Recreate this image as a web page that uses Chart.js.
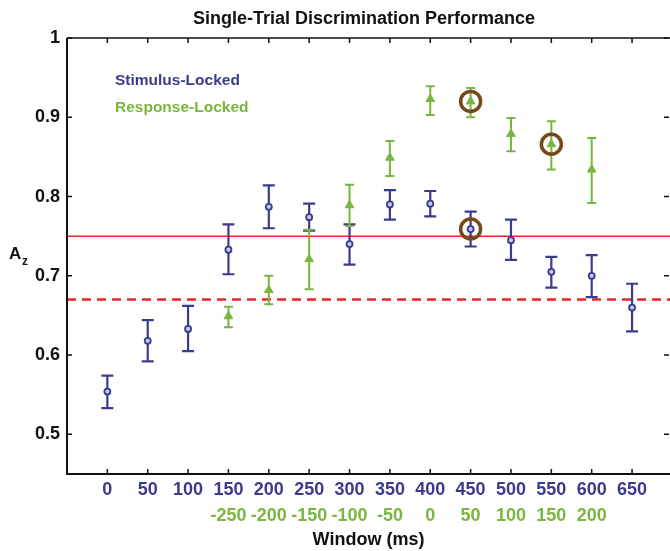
<!DOCTYPE html>
<html>
<head>
<meta charset="utf-8">
<script src="https://cdn.jsdelivr.net/npm/chart.js@4/dist/chart.umd.min.js"></script>
<style>
  html, body { margin: 0; padding: 0; background: #fff; }
  #wrap { width: 670px; height: 551px; }
</style>
</head>
<body>
<div id="wrap"><canvas id="azChart" width="670" height="551"></canvas></div>
<script>
// Stimulus-locked windows (ms) and Az values
const stimWindows = [0, 50, 100, 150, 200, 250, 300, 350, 400, 450, 500, 550, 600, 650];
const stimAz   = [0.554, 0.618, 0.633, 0.733, 0.787, 0.774, 0.740, 0.790, 0.791, 0.759, 0.745, 0.705, 0.700, 0.660];
const stimLow  = [0.533, 0.592, 0.605, 0.702, 0.760, 0.757, 0.714, 0.771, 0.775, 0.737, 0.720, 0.685, 0.673, 0.630];
const stimHigh = [0.574, 0.644, 0.662, 0.765, 0.814, 0.791, 0.765, 0.808, 0.807, 0.781, 0.771, 0.724, 0.726, 0.690];

// Response-locked windows (ms, relative to response) and Az values
const respWindows = [-250, -200, -150, -100, -50, 0, 50, 100, 150, 200];
const respAz   = [0.649, 0.682, 0.721, 0.789, 0.849, 0.923, 0.920, 0.879, 0.866, 0.834];
const respLow  = [0.635, 0.664, 0.683, 0.763, 0.826, 0.903, 0.900, 0.857, 0.834, 0.792];
const respHigh = [0.661, 0.700, 0.758, 0.815, 0.870, 0.939, 0.937, 0.899, 0.895, 0.874];
const respOffset = 400; // response window 0 sits under stimulus window 400

// circled (best) windows
const circledStim = [450];
const circledResp = [50, 150];

// reference lines
const solidLine = 0.75;
const dashedLine = 0.67;

const yTicks = [0.5, 0.6, 0.7, 0.8, 0.9, 1];

const BLUE = '#3b3b8e';
const GREEN = '#7ab63e';
const RED = '#e8262b';
const BROWN = '#764a18';
const FONT = "'Liberation Sans', Arial, sans-serif";

const stimPoints = stimWindows.map((w, i) => ({ x: w, y: stimAz[i] }));
const respPoints = respWindows.map((w, i) => ({ x: w + respOffset, y: respAz[i] }));
const circlePoints = [
  ...circledStim.map(w => ({ x: w, y: stimAz[stimWindows.indexOf(w)] })),
  ...circledResp.map(w => ({ x: w + respOffset, y: respAz[respWindows.indexOf(w)] }))
];

const extras = {
  id: 'extras',
  beforeDatasetsDraw(chart) {
    const { ctx, chartArea: a, scales: { x, y } } = chart;
    ctx.save();
    // reference lines
    ctx.strokeStyle = RED;
    ctx.lineWidth = 1.6;
    let py = y.getPixelForValue(solidLine);
    ctx.beginPath(); ctx.moveTo(a.left, py); ctx.lineTo(a.right, py); ctx.stroke();
    ctx.lineWidth = 2.5;
    ctx.setLineDash([9, 6]);
    py = y.getPixelForValue(dashedLine);
    ctx.beginPath(); ctx.moveTo(a.left, py); ctx.lineTo(a.right, py); ctx.stroke();
    ctx.setLineDash([]);

    // error bars
    const bars = (xs, lo, hi, color, cap, lw) => {
      ctx.strokeStyle = color;
      ctx.lineWidth = lw;
      xs.forEach((xv, i) => {
        const px = x.getPixelForValue(xv);
        const y1 = y.getPixelForValue(lo[i]);
        const y2 = y.getPixelForValue(hi[i]);
        ctx.beginPath();
        ctx.moveTo(px, y1); ctx.lineTo(px, y2);
        ctx.moveTo(px - cap, y1); ctx.lineTo(px + cap, y1);
        ctx.moveTo(px - cap, y2); ctx.lineTo(px + cap, y2);
        ctx.stroke();
      });
    };
    bars(stimWindows, stimLow, stimHigh, BLUE, 6, 2.2);
    bars(respWindows.map(w => w + respOffset), respLow, respHigh, GREEN, 4.5, 2);

    // frame
    ctx.strokeStyle = '#111';
    ctx.lineWidth = 2;
    ctx.beginPath();
    ctx.moveTo(a.left, a.top); ctx.lineTo(a.left, a.bottom); ctx.lineTo(a.right, a.bottom);
    ctx.stroke();
    ctx.lineWidth = 1.5;
    ctx.beginPath(); ctx.moveTo(a.left, a.top); ctx.lineTo(a.right, a.top); ctx.stroke();

    // inward ticks
    ctx.lineWidth = 1.5;
    ctx.beginPath();
    stimWindows.forEach(w => {
      const px = x.getPixelForValue(w);
      ctx.moveTo(px, a.bottom); ctx.lineTo(px, a.bottom - 5);
      ctx.moveTo(px, a.top); ctx.lineTo(px, a.top + 5);
    });
    yTicks.forEach(v => {
      const p = y.getPixelForValue(v);
      ctx.moveTo(a.left, p); ctx.lineTo(a.left + 5, p);
      ctx.moveTo(a.right - 1, p); ctx.lineTo(a.right - 6, p);
    });
    ctx.stroke();

    // title
    ctx.fillStyle = '#111';
    ctx.font = 'bold 18px ' + FONT;
    ctx.textAlign = 'center';
    ctx.textBaseline = 'alphabetic';
    ctx.fillText('Single-Trial Discrimination Performance', 364, 24);

    // y-axis label A_z
    ctx.font = 'bold 17px ' + FONT;
    ctx.textAlign = 'left';
    ctx.fillText('A', 9, 259);
    ctx.font = 'bold 12px ' + FONT;
    ctx.fillText('z', 22, 265);

    // legend text
    ctx.font = 'bold 15.5px ' + FONT;
    ctx.fillStyle = BLUE;
    ctx.fillText('Stimulus-Locked', 115, 85);
    ctx.fillStyle = GREEN;
    ctx.fillText('Response-Locked', 115, 112);
    ctx.restore();
  }
};

// keep the plot running to the right edge of the canvas
const noSidePadding = s => { s.paddingLeft = 0; s.paddingRight = 0; };

new Chart(document.getElementById('azChart'), {
  type: 'scatter',
  data: {
    datasets: [
      {
        label: 'Stimulus-Locked',
        data: stimPoints,
        pointStyle: 'circle',
        pointRadius: 3,
        borderColor: BLUE,
        backgroundColor: '#c9c9ea',
        borderWidth: 1.8
      },
      {
        label: 'Response-Locked',
        data: respPoints,
        pointStyle: 'triangle',
        pointRadius: 5,
        borderColor: GREEN,
        backgroundColor: GREEN,
        borderWidth: 1
      },
      {
        label: 'Best',
        data: circlePoints,
        pointStyle: 'circle',
        pointRadius: 10,
        borderColor: BROWN,
        backgroundColor: 'rgba(0,0,0,0)',
        borderWidth: 3.5
      }
    ]
  },
  options: {
    responsive: false,
    animation: false,
    layout: { autoPadding: false, padding: { top: 38, left: 0, right: 0, bottom: 0 } },
    plugins: {
      legend: { display: false },
      tooltip: { enabled: false }
    },
    scales: {
      x: {
        type: 'linear',
        min: -50,
        max: 697,
        weight: 0,
        afterBuildTicks: s => { s.ticks = stimWindows.map(v => ({ value: v })); },
        afterFit: s => { s.height = 28; noSidePadding(s); },
        grid: { display: false, drawTicks: false },
        border: { display: false },
        ticks: {
          color: BLUE,
          padding: 5,
          maxRotation: 0,
          autoSkip: false,
          font: { family: FONT, size: 18, weight: 'bold' },
          callback: v => String(v)
        }
      },
      x2: {
        type: 'linear',
        position: 'bottom',
        min: -50,
        max: 697,
        weight: 1,
        afterBuildTicks: s => { s.ticks = respWindows.map(v => ({ value: v + respOffset })); },
        afterFit: s => { s.height = 49; noSidePadding(s); },
        grid: { display: false, drawTicks: false },
        border: { display: false },
        ticks: {
          color: GREEN,
          padding: 3,
          maxRotation: 0,
          autoSkip: false,
          font: { family: FONT, size: 18, weight: 'bold' },
          callback: (v, i) => String(respWindows[i])
        },
        title: {
          display: true,
          text: 'Window (ms)',
          color: '#111',
          padding: { top: 1, bottom: 0 },
          font: { family: FONT, size: 18, weight: 'bold' }
        }
      },
      y: {
        min: 0.45,
        max: 1,
        afterBuildTicks: s => { s.ticks = yTicks.map(v => ({ value: v })); },
        afterFit: s => { s.width = 67; },
        grid: { display: false, drawTicks: false },
        border: { display: false },
        ticks: {
          color: '#111',
          padding: 7,
          font: { family: FONT, size: 18, weight: 'bold' },
          callback: v => (v === 1 ? '1' : v.toFixed(1))
        }
      }
    }
  },
  plugins: [extras]
});
</script>
</body>
</html>
